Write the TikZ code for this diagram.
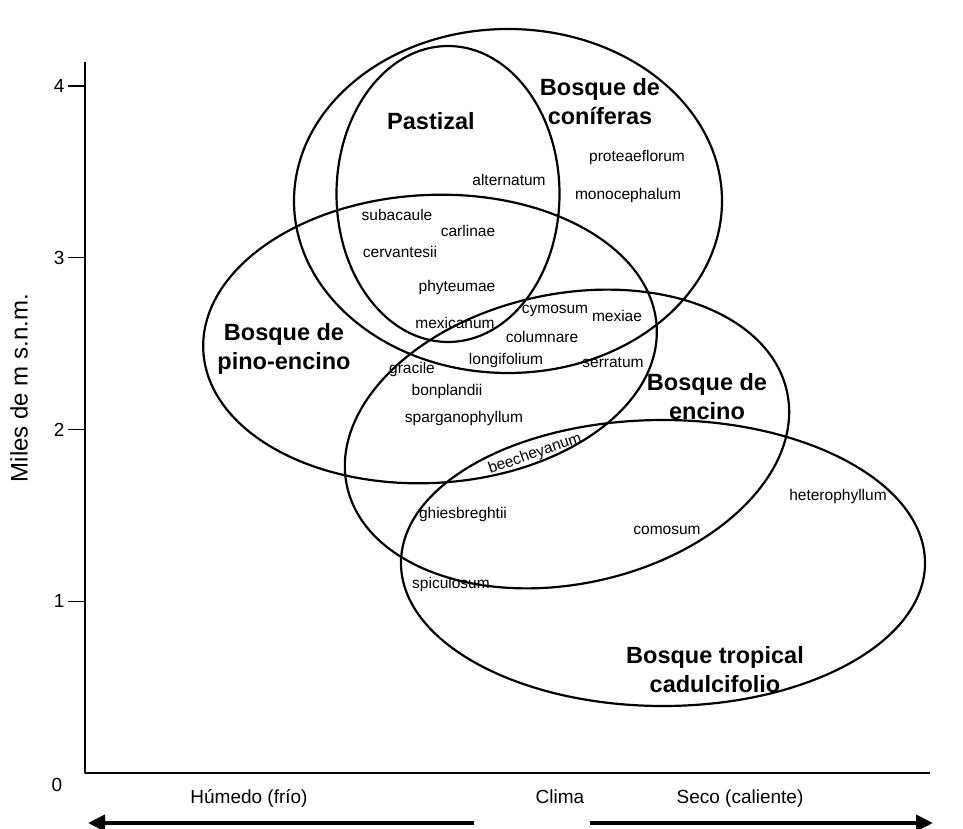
\documentclass[tikz,border=0pt]{standalone}
\usepackage{fontspec}
\setmainfont{Liberation Sans}
\setsansfont{Liberation Sans}
\usepackage{tikz}
\usetikzlibrary{arrows.meta,positioning}
\tikzset{
    basic/.style   = {inner sep=1pt, font=\sffamily},
    species/.style = {basic, font=\sffamily\fontsize{15.5}{18}\selectfont},
    biome/.style   = {basic, align=center, font=\sffamily\bfseries\fontsize{23.5}{29}\selectfont},
    axis text/.style = {basic, font=\sffamily\fontsize{19}{22}\selectfont},
    zone/.style    = {line width=2.2pt},
    climate/.style = {line width=4pt, -{Triangle[length=17pt,width=16pt]}}
}
\begin{document}
\begin{tikzpicture}[x=1pt,y=-1pt,line join=round]
\useasboundingbox (0,0) rectangle (963,829);

% axes
\coordinate (origin) at (85,773);
\coordinate (ytop) at (85,62);
\coordinate (xend) at (930,773);
\draw[line width=2.5pt] (ytop) -- (origin) -- (xend);
\foreach \v in {1,...,4}
    \draw[line width=1.2pt] (85,{773-171.75*\v}) -- ++(-17,0)
        node[axis text, left=2pt] (tick\v) {\v};
\node[axis text] (tick0) at (57,785) {0};
\node[basic, rotate=90, font=\sffamily\fontsize{24}{28}\selectfont] (ylabel) at (19,388) {Miles de m s.n.m.};

% vegetation zones
\draw[zone] (508,201) ellipse [x radius=214, y radius=172];
\draw[zone] (448,194) ellipse [x radius=111.5, y radius=148];
\draw[zone, rotate around={3:(430,339)}] (430,339) ellipse [x radius=227, y radius=144];
\draw[zone, rotate around={12:(567,439)}] (567,439) ellipse [x radius=225, y radius=145];
\draw[zone] (663,563) ellipse [x radius=262, y radius=143];

\begin{scope}[every node/.style={biome}]
    \node (pastizal) at (431,121) {Pastizal};
    \node (coniferas) at (600,102) {Bosque de\\coníferas};
    \node (pino) at (284,349) {Bosque de\\pino-encino};
    \node (encino) at (707,397) {Bosque de\\encino};
    \node (tropical) at (715,670) {Bosque tropical\\cadulcifolio};
\end{scope}

\begin{scope}[every node/.style={species}]
    \node (proteae) at (637,157) {proteaeflorum};
    \node (monoceph) at (628,195) {monocephalum};
    \node (alternatum) at (509,180) {alternatum};
    \node (subacaule) at (397,215) {subacaule};
    \node (carlinae) at (468,231) {carlinae};
    \node (cervantesii) at (400,252) {cervantesii};
    \node (phyteumae) at (457,287) {phyteumae};
    \node (cymosum) at (555,311) {cymosum};
    \node (mexiae) at (617,316) {mexiae};
    \node (mexicanum) at (455,323) {mexicanum};
    \node (columnare) at (542,337) {columnare};
    \node (longifolium) at (506,360) {longifolium};
    \node (serratum) at (613,363) {serratum};
    \node (gracile) at (412,369) {gracile};
    \node (bonplandii) at (447,391) {bonplandii};
    \node (spargano) at (464,418) {sparganophyllum};
    \node[rotate=19, inner sep=0pt] (beecheyanum) at (535,454) {beecheyanum};
    \node (ghiesbreghtii) at (463,514) {ghiesbreghtii};
    \node (comosum) at (667,530) {comosum};
    \node (heterophyllum) at (838,496) {heterophyllum};
    \node (spiculosum) at (451,584) {spiculosum};
\end{scope}

% climate
\node[axis text, anchor=base] (humedo) at (249,803) {Húmedo (frío)};
\node[axis text, anchor=base] (clima) at (560,803) {Clima};
\node[axis text, anchor=base] (seco) at (740,803) {Seco (caliente)};
\coordinate (hum start) at (474,823);
\coordinate (hum end) at (88,823);
\coordinate (seco start) at (590,823);
\coordinate (seco end) at (933,823);
\draw[climate] (hum start) -- (hum end);
\draw[climate] (seco start) -- (seco end);
\end{tikzpicture}
\end{document}
